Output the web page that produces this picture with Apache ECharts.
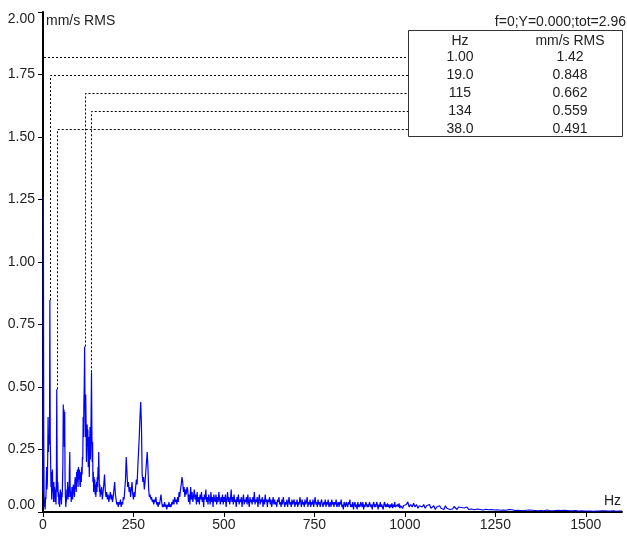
<!DOCTYPE html>
<html>
<head>
<meta charset="utf-8">
<script src="https://cdn.jsdelivr.net/npm/echarts@6/dist/echarts.min.js"></script>
<style>
html,body{margin:0;padding:0;background:#fff;}
#chart{width:627px;height:538px;}
</style>
</head>
<body>
<div id="chart"></div>
<script>
// ---- data ----
// spectrum 0..159 Hz, 1 Hz step
const lowStartHz = 0, lowStepHz = 1;
const lowVals = [
0.08,1.26,0.35,0.06,0.02,0.04,0.01,0.06,0.05,0.12,
0.18,0.09,0.12,0.22,0.38,0.24,0.31,0.27,0.30,0.848,
0.29,0.21,0.10,0.16,0.05,0.12,0.17,0.08,0.10,0.04,
0.12,0.06,0.10,0.04,0.09,0.07,0.03,0.15,0.491,0.20,
0.08,0.12,0.06,0.08,0.03,0.07,0.02,0.06,0.09,0.05,
0.07,0.03,0.08,0.06,0.12,0.20,0.43,0.31,0.41,0.26,
0.40,0.12,0.06,0.02,0.04,0.05,0.09,0.06,0.12,0.05,
0.08,0.10,0.06,0.18,0.24,0.10,0.06,0.08,0.04,0.07,
0.10,0.09,0.05,0.09,0.11,0.07,0.10,0.06,0.12,0.14,
0.09,0.13,0.08,0.16,0.12,0.17,0.13,0.10,0.18,0.13,
0.13,0.17,0.11,0.10,0.14,0.16,0.12,0.18,0.15,0.22,
0.21,0.38,0.30,0.44,0.50,0.662,0.44,0.30,0.47,0.36,
0.20,0.26,0.35,0.28,0.33,0.18,0.30,0.22,0.14,0.27,
0.34,0.21,0.27,0.40,0.559,0.34,0.20,0.28,0.12,0.16,
0.08,0.14,0.10,0.13,0.07,0.11,0.06,0.09,0.12,0.08,
0.14,0.10,0.18,0.13,0.24,0.16,0.08,0.11,0.06,0.09
];
// spectrum 160..398 Hz, 2 Hz step
const midStartHz = 160, midStepHz = 2;
const midVals = [
0.07,0.10,0.05,0.08,0.11,0.15,0.09,0.06,0.08,0.05,
0.07,0.04,0.06,0.08,0.05,0.07,0.04,0.06,0.09,0.12,
0.07,0.05,0.03,0.04,0.02,0.04,0.03,0.05,0.02,0.04,
0.03,0.06,0.05,0.09,0.13,0.22,0.16,0.10,0.12,0.08,
0.10,0.06,0.09,0.12,0.07,0.05,0.08,0.06,0.10,0.13,
0.11,0.18,0.24,0.30,0.38,0.44,0.35,0.15,0.12,0.14,
0.09,0.12,0.16,0.20,0.24,0.18,0.09,0.06,0.07,0.05,
0.06,0.04,0.05,0.03,0.05,0.04,0.06,0.03,0.04,0.02,
0.04,0.03,0.05,0.07,0.04,0.02,0.03,0.02,0.04,0.02,
0.03,0.01,0.03,0.02,0.04,0.02,0.03,0.02,0.04,0.03,
0.05,0.03,0.06,0.04,0.05,0.03,0.06,0.04,0.08,0.06,
0.09,0.11,0.14,0.12,0.08,0.10,0.06,0.09,0.07,0.10
];
// spectrum 400..998 Hz, 2 Hz step
const highStartHz = 400, highStepHz = 2;
const highVals = [
0.09,0.04,0.07,0.03,0.10,0.05,0.08,0.04,0.06,0.09,
0.05,0.07,0.03,0.08,0.04,0.06,0.03,0.07,0.05,0.08,
0.04,0.06,0.02,0.07,0.05,0.09,0.04,0.06,0.03,0.07,
0.05,0.03,0.08,0.04,0.06,0.02,0.07,0.05,0.04,0.07,
0.03,0.06,0.04,0.08,0.05,0.03,0.06,0.04,0.07,0.03,
0.06,0.04,0.07,0.02,0.05,0.08,0.04,0.06,0.03,0.05,
0.09,0.04,0.06,0.03,0.07,0.04,0.05,0.02,0.06,0.04,
0.07,0.03,0.05,0.04,0.06,0.02,0.05,0.07,0.03,0.05,
0.04,0.06,0.03,0.07,0.04,0.02,0.06,0.04,0.05,0.03,
0.06,0.04,0.08,0.03,0.05,0.04,0.06,0.02,0.05,0.07,
0.03,0.05,0.04,0.06,0.02,0.05,0.03,0.07,0.04,0.05,
0.02,0.05,0.04,0.06,0.03,0.05,0.02,0.04,0.06,0.03,
0.05,0.03,0.04,0.02,0.05,0.04,0.06,0.03,0.04,0.02,
0.05,0.03,0.06,0.04,0.02,0.04,0.03,0.05,0.02,0.04,
0.06,0.03,0.04,0.02,0.05,0.03,0.04,0.05,0.02,0.04,
0.03,0.05,0.02,0.04,0.03,0.06,0.04,0.02,0.05,0.03,
0.04,0.02,0.05,0.03,0.04,0.06,0.02,0.04,0.03,0.05,
0.02,0.04,0.03,0.05,0.02,0.04,0.06,0.03,0.04,0.02,
0.05,0.03,0.04,0.02,0.04,0.05,0.03,0.02,0.04,0.03,
0.05,0.02,0.04,0.03,0.05,0.02,0.03,0.04,0.02,0.05,
0.03,0.04,0.02,0.04,0.03,0.05,0.02,0.03,0.04,0.02,
0.04,0.03,0.05,0.02,0.03,0.01,0.04,0.03,0.02,0.04,
0.03,0.02,0.04,0.03,0.05,0.02,0.03,0.02,0.04,0.01,
0.03,0.04,0.02,0.03,0.01,0.04,0.02,0.03,0.02,0.04,
0.03,0.02,0.04,0.01,0.03,0.02,0.04,0.03,0.02,0.03,
0.02,0.04,0.03,0.02,0.03,0.01,0.03,0.04,0.02,0.03,
0.02,0.04,0.03,0.01,0.03,0.02,0.04,0.02,0.03,0.02,
0.01,0.03,0.04,0.02,0.03,0.02,0.035,0.02,0.03,0.015,
0.03,0.02,0.035,0.015,0.03,0.02,0.04,0.02,0.025,0.015,
0.03,0.02,0.035,0.015,0.025,0.02,0.03,0.015,0.025,0.02
];
// spectrum 1000..1600 Hz, 4 Hz step
const tailStartHz = 1000, tailStepHz = 4;
const tailVals = [
0.02,0.03,0.04,0.02,0.03,0.02,0.035,0.02,0.03,0.015,0.025,0.03,0.02,0.03,0.015,0.025,0.02,0.03,0.015,0.02,0.025,0.01,0.02,0.015,0.025,
0.015,0.02,0.01,0.025,0.015,0.02,0.01,0.018,0.012,0.022,0.015,0.01,0.02,0.014,0.018,0.01,0.016,0.012,0.02,0.01,0.015,0.012,0.018,0.009,0.014,
0.012,0.016,0.01,0.014,0.008,0.013,0.011,0.015,0.009,0.012,0.01,0.014,0.008,0.011,0.009,0.012,0.007,0.01,0.008,0.011,0.007,0.009,0.01,0.006,0.009,
0.008,0.006,0.009,0.007,0.01,0.006,0.008,0.005,0.009,0.007,0.006,0.008,0.005,0.007,0.009,0.006,0.007,0.005,0.008,0.006,0.007,0.005,0.006,0.008,0.005,
0.006,0.007,0.005,0.008,0.006,0.004,0.007,0.005,0.006,0.004,0.007,0.005,0.006,0.004,0.005,0.007,0.005,0.004,0.006,0.005,0.004,0.006,0.005,0.007,0.004,
0.005,0.004,0.006,0.004,0.005,0.003,0.005,0.004,0.006,0.004,0.003,0.005,0.004,0.005,0.003,0.004,0.006,0.004,0.003,0.005,0.004,0.003,0.005,0.004,0.003,
0.004
];
// peak list (table)
const peakHzText = ['1.00','19.0','115','134','38.0'];
const peakValText = ['1.42','0.848','0.662','0.559','0.491'];
const xTicks = [0,250,500,750,1000,1250,1500];
const headerText = 'f=0;Y=0.000;tot=2.96';
const yUnit = 'mm/s RMS';
const xUnit = 'Hz';

// ---- build ----
const seg = (vals, start, step) => vals.map((v,i)=>[start + i*step, v]);
const spectrum = []
  .concat(seg(lowVals, lowStartHz, lowStepHz))
  .concat(seg(midVals, midStartHz, midStepHz))
  .concat(seg(highVals, highStartHz, highStepHz))
  .concat(seg(tailVals, tailStartHz, tailStepHz));
const peaks = peakHzText.map((h,i)=>[parseFloat(h), parseFloat(peakValText[i])]);

const FAM = '"Liberation Sans", Arial, sans-serif';
const FONT = '14px ' + FAM;
const TXT = '#222';
const TBL = {left:408.5, right:622.5, top:30.5, bottom:136.5, hzX:460, valX:570, headY:41, row0:57.5, rowH:18};

const chart = echarts.init(document.getElementById('chart'), null, {renderer:'canvas'});

const graphics = [
  {type:'text', style:{text:yUnit, x:46, y:21, font:FONT, fill:TXT, align:'left', verticalAlign:'middle'}},
  {type:'text', style:{text:xUnit, x:621, y:501, font:FONT, fill:TXT, align:'right', verticalAlign:'middle'}},
  {type:'text', style:{text:headerText, x:626, y:22, font:FONT, fill:TXT, align:'right', verticalAlign:'middle'}},
  {type:'rect', shape:{x:TBL.left, y:TBL.top, width:TBL.right-TBL.left, height:TBL.bottom-TBL.top}, style:{fill:'#fff', stroke:'#333', lineWidth:1}, z:5},
  {type:'text', style:{text:'Hz', x:TBL.hzX, y:TBL.headY, font:FONT, fill:TXT, align:'center', verticalAlign:'middle'}, z:6},
  {type:'text', style:{text:'mm/s RMS', x:TBL.valX, y:TBL.headY, font:FONT, fill:TXT, align:'center', verticalAlign:'middle'}, z:6}
];
peakHzText.forEach((t,i)=>{
  graphics.push({type:'text', style:{text:t, x:TBL.hzX, y:TBL.row0 + i*TBL.rowH, font:FONT, fill:TXT, align:'center', verticalAlign:'middle'}, z:6});
  graphics.push({type:'text', style:{text:peakValText[i], x:TBL.valX, y:TBL.row0 + i*TBL.rowH, font:FONT, fill:TXT, align:'center', verticalAlign:'middle'}, z:6});
});

const option = {
  animation:false,
  backgroundColor:'#fff',
  grid:{left:43, right:5, top:12, bottom:26, containLabel:false, outerBoundsMode:'none'},
  xAxis:{
    type:'value', min:0, max:1600, interval:250, z:0,
    axisLine:{show:true, onZero:false, lineStyle:{color:'#000', width:2}},
    axisTick:{show:true, length:5, lineStyle:{color:'#000', width:1}, customValues:xTicks},
    axisLabel:{color:TXT, fontSize:14, fontFamily:FAM, margin:6, customValues:xTicks, formatter:v=>String(v)},
    splitLine:{show:false}
  },
  yAxis:{
    type:'value', min:0, max:2, interval:0.25, z:0,
    axisLine:{show:true, lineStyle:{color:'#000', width:2}},
    axisTick:{show:true, length:5, lineStyle:{color:'#000', width:1}},
    axisLabel:{color:TXT, fontSize:14, fontFamily:FAM, margin:8,
      formatter:v=>v.toFixed(2), verticalAlignMaxLabel:'top', verticalAlignMinLabel:'bottom'},
    splitLine:{show:false}
  },
  graphic:graphics,
  series:[
    {
      type:'custom', data:peaks, z:2, clip:false,
      renderItem:(params, api)=>{
        const p = api.coord([api.value(0), api.value(1)]);
        const x = Math.round(p[0]) + 0.5;
        const rowY = TBL.row0 + params.dataIndex*TBL.rowH;
        return {type:'polyline', shape:{points:[[x, p[1]],[x, rowY],[TBL.left, rowY]]},
          style:{stroke:'#000', lineWidth:1, lineDash:[2,2], fill:null}};
      }
    },
    {
      type:'line', data:spectrum, showSymbol:false, symbol:'none', sampling:null,
      lineStyle:{color:'#0000ff', width:1.2}, z:4, clip:false
    }
  ]
};
chart.setOption(option);
</script>
</body>
</html>
